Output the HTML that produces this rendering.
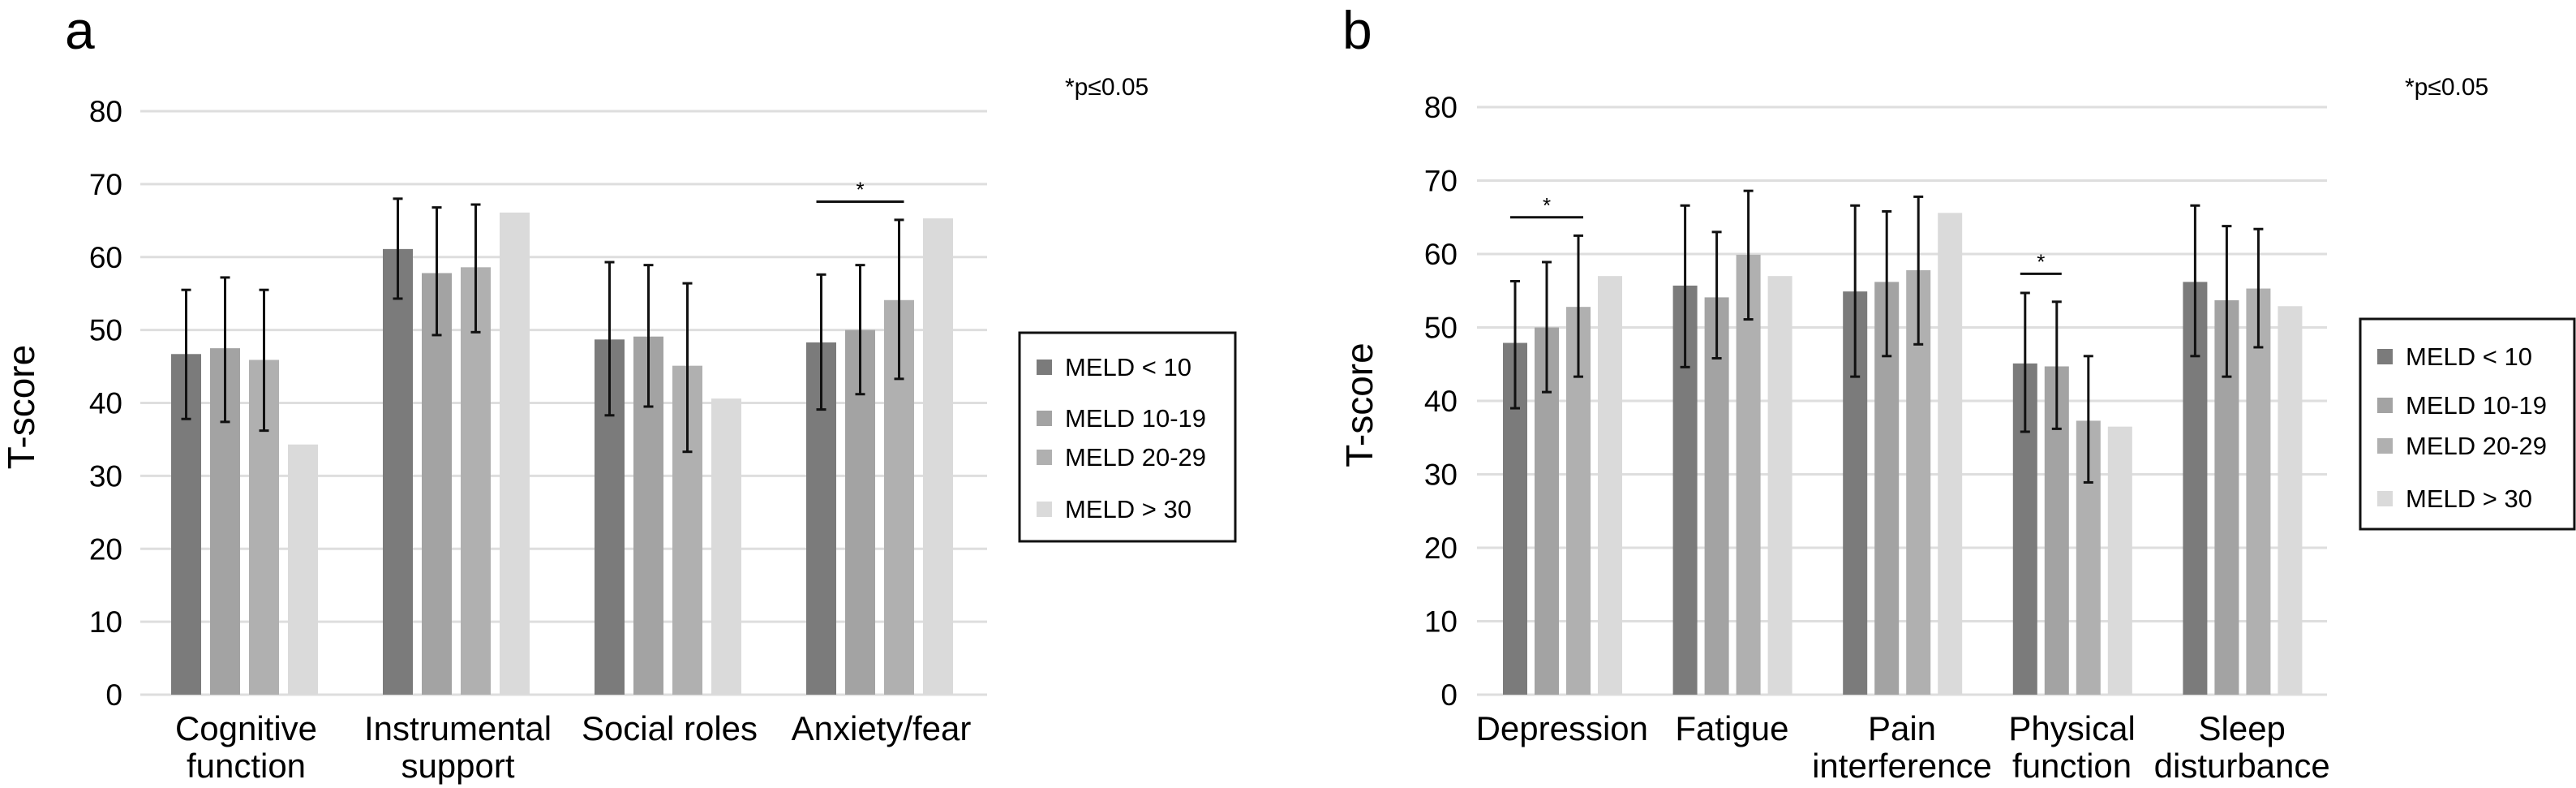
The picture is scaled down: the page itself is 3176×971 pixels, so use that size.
<!DOCTYPE html>
<html><head><meta charset="utf-8"><style>
html,body{margin:0;padding:0;background:#fff}
svg{display:block;font-family:"Liberation Sans",sans-serif}
</style></head><body>
<svg id="chart" width="3176" height="971" viewBox="0 0 3176 971" xmlns="http://www.w3.org/2000/svg"></svg>
<script>
const seriesNames = ["MELD < 10","MELD 10-19","MELD 20-29","MELD > 30"];
const colors = ["#7b7b7b","#a3a3a3","#b0b0b0","#dadada"];
const yTicks = [0,10,20,30,40,50,60,70,80];

const catsA = [["Cognitive","function"],["Instrumental","support"],["Social roles"],["Anxiety/fear"]];
const meansA = [[46.7,47.5,45.9,34.3],[61.1,57.8,58.6,66.1],[48.7,49.1,45.1,40.6],[48.3,50.0,54.1,65.3]];
const hiA = [[55.5,57.2,55.5,null],[68.0,66.8,67.2,null],[59.3,58.9,56.4,null],[57.6,58.9,65.1,null]];
const loA = [[37.8,37.4,36.2,null],[54.3,49.3,49.7,null],[38.3,39.5,33.3,null],[39.1,41.2,43.3,null]];
const sigA = [[3,0,2,67.6]];

const catsB = [["Depression"],["Fatigue"],["Pain","interference"],["Physical","function"],["Sleep","disturbance"]];
const meansB = [[47.9,50.0,52.8,57.0],[55.7,54.1,59.9,57.0],[54.9,56.2,57.8,65.6],[45.1,44.7,37.3,36.5],[56.2,53.7,55.3,52.9]];
const hiB = [[56.3,58.9,62.5,null],[66.6,63.0,68.6,null],[66.6,65.8,67.8,null],[54.7,53.5,46.1,null],[66.6,63.8,63.4,null]];
const loB = [[39.0,41.2,43.3,null],[44.6,45.8,51.1,null],[43.3,46.1,47.7,null],[35.8,36.2,28.9,null],[46.1,43.3,47.3,null]];
const sigB = [[0,0,2,65.0],[3,0,1,57.3]];

const NS="http://www.w3.org/2000/svg";
const svg=document.getElementById('chart');
function el(tag,attrs,parent){const e=document.createElementNS(NS,tag);for(const k in attrs)e.setAttribute(k,attrs[k]);(parent||svg).appendChild(e);return e;}

function panel(cfg){
  const g=el('g',{});
  
  
  const y=v=>cfg.y0+(cfg.y80-cfg.y0)*v/80;
  const catW=(cfg.x1-cfg.x0)/cfg.cats.length;
  const bx=(c,s)=>cfg.x0+c*catW+cfg.off+s*cfg.step;
  const t=el('text',{x:cfg.letterX,y:60,'font-size':66},g);t.textContent=cfg.letter;
  
  const p=el('text',{x:cfg.pX,y:117,'font-size':30},g);p.textContent='*p≤0.05';
  
  yTicks.forEach(v=>{
    const l=el('line',{x1:cfg.x0,x2:cfg.x1,y1:y(v),y2:y(v),stroke:'#dedede','stroke-width':3},g);
    
    const tt=el('text',{x:cfg.tickX,y:y(v)+13,'font-size':37,'text-anchor':'end'},g);tt.textContent=v;
    
  });
  const yl=el('text',{x:0,y:0,'font-size':46,'text-anchor':'middle',transform:`translate(${cfg.ytX},${(y(0)+y(80))/2+5}) rotate(-90)`},g);
  yl.textContent='T-score';
  cfg.cats.forEach((cat,c)=>{
    cfg.means[c].forEach((m,s)=>{
      const r=el('rect',{x:bx(c,s),y:y(m),width:cfg.bw,height:y(0)-y(m),fill:colors[s]},g);
      
      if(cfg.hi[c][s]!=null){
        const cx=bx(c,s)+cfg.bw/2,h=y(cfg.hi[c][s]),lo=y(cfg.lo[c][s]);
        const eg=el('g',{stroke:'#111','stroke-width':3},g);
        
        el('line',{x1:cx,x2:cx,y1:h,y2:lo},eg);
        el('line',{x1:cx-6,x2:cx+6,y1:h,y2:h},eg);
        el('line',{x1:cx-6,x2:cx+6,y1:lo,y2:lo},eg);
      }
    });
    const cx=cfg.x0+c*catW+catW/2;
    cat.forEach((line,i)=>{
      const tx=el('text',{x:cx,y:912+i*46,'font-size':42,'text-anchor':'middle'},g);tx.textContent=line;
      
    });
  });
  cfg.sig.forEach(sg=>{
    const [c,a,b,v]=sg;
    const xa=bx(c,a)+cfg.bw/2-6,xb=bx(c,b)+cfg.bw/2+6;
    const l=el('line',{x1:xa,x2:xb,y1:y(v),y2:y(v),stroke:'#111','stroke-width':3},g);
    
    const s=el('text',{x:(xa+xb)/2,y:y(v)-6,'font-size':26,'text-anchor':'middle'},g);s.textContent='*';
    
  });
  const lg=el('g',{},g);
  el('rect',{x:cfg.lg[0],y:cfg.lg[1],width:cfg.lg[2],height:cfg.lg[3],fill:'#fff',stroke:'#111','stroke-width':3},lg);
  seriesNames.forEach((n,i)=>{
    const ey=cfg.lgY[i];
    const eg=el('g',{},lg);
    el('rect',{x:cfg.lg[0]+21,y:ey-20,width:19,height:19,fill:colors[i]},eg);
    const tx=el('text',{x:cfg.lg[0]+56,y:ey,'font-size':31},eg);tx.textContent=n;
  });
}
panel({letter:'a',letterX:80,pX:1313,x0:173,x1:1217,y0:856,y80:137,off:38,step:48,bw:37,tickX:151,ytX:42,
  cats:catsA,means:meansA,hi:hiA,lo:loA,sig:sigA,lg:[1257,410,266,257],lgY:[463,526,574,638]});
panel({letter:'b',letterX:1655,pX:2965,x0:1821,x1:2869,y0:856,y80:132,off:32,step:39,bw:30,tickX:1797,ytX:1692,
  cats:catsB,means:meansB,hi:hiB,lo:loB,sig:sigB,lg:[2910,393,264,259],lgY:[450,510,560,625]});
</script>
</body></html>
